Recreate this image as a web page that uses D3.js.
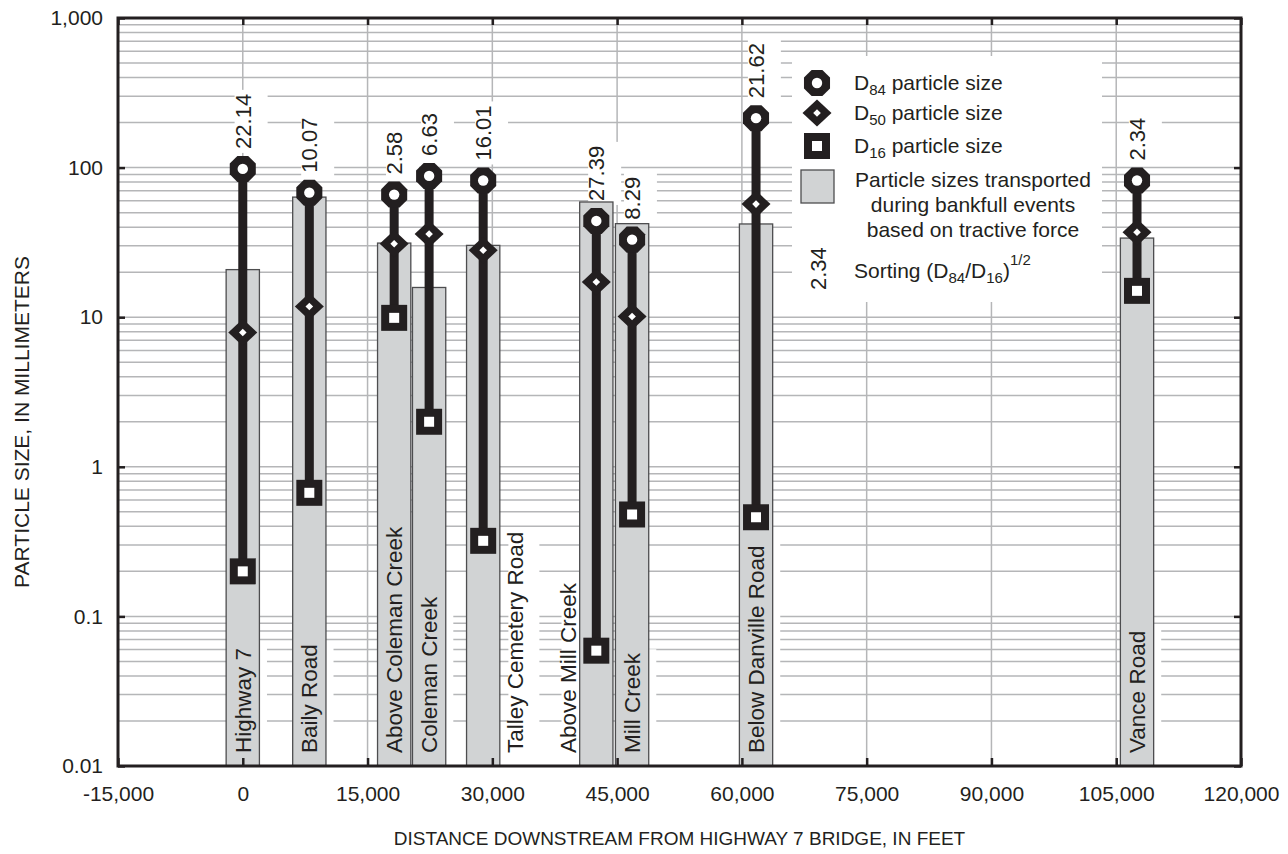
<!DOCTYPE html>
<html>
<head>
<meta charset="utf-8">
<script src="https://cdn.jsdelivr.net/npm/d3@7/dist/d3.min.js"></script>
<style>
  body { margin: 0; background: #fff; }
  svg { font-family: "Liberation Sans", Arial, Helvetica, sans-serif; }
</style>
</head>
<body>
<svg id="chart" width="1288" height="854"></svg>
<script>
// station data
const stations = ["Highway 7", "Baily Road", "Above Coleman Creek", "Coleman Creek",
  "Talley Cemetery Road", "Above Mill Creek", "Mill Creek", "Below Danville Road", "Vance Road"];
const distance = [0, 8000, 18200, 22400, 28900, 42500, 46800, 61700, 107500];   // feet
const d84 = [98, 68, 66, 88, 82, 44, 33, 214, 82];                               // mm
const d50 = [7.9, 11.8, 31, 36, 28, 17.2, 10.1, 57, 37];
const d16 = [0.2, 0.67, 9.9, 2.0, 0.32, 0.059, 0.48, 0.46, 15];
const sorting = ["22.14", "10.07", "2.58", "6.63", "16.01", "27.39", "8.29", "21.62", "2.34"];
const tractive = [20.8, 63.5, 31.3, 15.8, 30.2, 58.9, 42.2, 42, 33.8];          // bar tops, mm
const barWidthFt = 4000;

// axes
const xTicks = [-15000, 0, 15000, 30000, 45000, 60000, 75000, 90000, 105000, 120000];
const xTickLabels = ["-15,000", "0", "15,000", "30,000", "45,000", "60,000", "75,000", "90,000", "105,000", "120,000"];
const yTicks = [0.01, 0.1, 1, 10, 100, 1000];
const yTickLabels = ["0.01", "0.1", "1", "10", "100", "1,000"];
const xTitle = "DISTANCE DOWNSTREAM FROM HIGHWAY 7 BRIDGE, IN FEET";
const yTitle = "PARTICLE SIZE, IN MILLIMETERS";

// labels that sit beside their bar instead of inside (px)
const labelShift = { "Talley Cemetery Road": 32, "Above Mill Creek": -28 };

const ink = "#231f20";
const gridColor = "#b5b6b8";
const barFill = "#d1d3d4";
const barEdge = "#4d4d4f";

const margin = { top: 18, right: 47, bottom: 88, left: 118 };
const svg = d3.select("#chart");
const width = +svg.attr("width") - margin.left - margin.right;
const height = +svg.attr("height") - margin.top - margin.bottom;

const x = d3.scaleLinear().domain([-15000, 120000]).range([0, width]);
const y = d3.scaleLog().domain([0.01, 1000]).range([height, 0]);

const chart = svg.append("g").attr("transform", `translate(${margin.left},${margin.top})`);

// grid
const minor = [];
yTicks.slice(0, -1).forEach(d => { for (let k = 1; k <= 9; k++) minor.push(d * k); });
chart.append("g").selectAll("line").data(minor.filter(v => v > 0.01))
  .enter().append("line")
  .attr("x1", 0).attr("x2", width)
  .attr("y1", d => y(d)).attr("y2", d => y(d))
  .attr("stroke", gridColor).attr("stroke-width", 1.5);
chart.append("g").selectAll("line").data(xTicks.slice(1, -1))
  .enter().append("line")
  .attr("x1", d => x(d)).attr("x2", d => x(d))
  .attr("y1", 0).attr("y2", height)
  .attr("stroke", gridColor).attr("stroke-width", 1.5);

const bgLayer = chart.append("g");
const barLayer = chart.append("g");
const markLayer = chart.append("g");
const textLayer = chart.append("g");

// bars: particle sizes moved at bankfull
const barPx = x(barWidthFt) - x(0);
barLayer.selectAll("rect").data(stations).enter().append("rect")
  .attr("x", (d, i) => x(distance[i]) - barPx / 2)
  .attr("width", barPx)
  .attr("y", (d, i) => y(tractive[i]))
  .attr("height", (d, i) => height - y(tractive[i]))
  .attr("fill", barFill).attr("stroke", barEdge).attr("stroke-width", 1.3);

// marker shapes
function octagon(r) {
  const pts = d3.range(8).map(k => {
    const a = Math.PI / 8 + k * Math.PI / 4;
    return [r * Math.cos(a), r * Math.sin(a)];
  });
  return "M" + pts.join("L") + "Z";
}
function diamond(w, h) { return `M0,${-h}L${w},0L0,${h}L${-w},0Z`; }
function square(s) { return `M${-s},${-s}H${s}V${s}H${-s}Z`; }

function drawMarker(g, type, cx, cy) {
  const m = g.append("g").attr("transform", `translate(${cx},${cy})`);
  if (type === "d84") {
    m.append("path").attr("d", octagon(14.1)).attr("fill", ink);
    m.append("circle").attr("r", 5.2).attr("fill", "#fff");
  } else if (type === "d50") {
    m.append("path").attr("d", diamond(14.5, 13.5)).attr("fill", ink);
    m.append("path").attr("d", diamond(3.8, 3.8)).attr("fill", "#fff");
  } else {
    m.append("path").attr("d", square(13)).attr("fill", ink);
    m.append("path").attr("d", square(5)).attr("fill", "#fff");
  }
}

// range lines + markers
stations.forEach((s, i) => {
  const cx = x(distance[i]);
  markLayer.append("line")
    .attr("x1", cx).attr("x2", cx)
    .attr("y1", y(d84[i])).attr("y2", y(d16[i]))
    .attr("stroke", ink).attr("stroke-width", 9);
  drawMarker(markLayer, "d16", cx, y(d16[i]));
  drawMarker(markLayer, "d50", cx, y(d50[i]));
  drawMarker(markLayer, "d84", cx, y(d84[i]));
});

// rotated text with a white backing that knocks out the grid
function vText(cx, cy, str, size, pad) {
  const t = textLayer.append("text")
    .attr("transform", `translate(${cx},${cy}) rotate(-90)`)
    .attr("dy", "0.36em")
    .attr("font-size", size).attr("fill", ink)
    .text(str);
  const b = t.node().getBBox();
  bgLayer.append("rect")
    .attr("transform", `translate(${cx},${cy}) rotate(-90)`)
    .attr("x", b.x - pad).attr("y", b.y + size * 0.36 - pad)
    .attr("width", b.width + 2 * pad).attr("height", b.height + 2 * pad)
    .attr("fill", "#fff");
  return t;
}

stations.forEach((s, i) => {
  const cx = x(distance[i]);
  vText(cx, y(d84[i]) - 20, sorting[i], 22, 4);
  vText(cx + (labelShift[s] || 0), height - 13, s, 22.5, 3);
});

// axes: ticks only inward, frame drawn separately
function styleAxis(g) {
  g.select(".domain").remove();
  g.selectAll(".tick line").attr("stroke", ink).attr("stroke-width", 2.5);
  g.selectAll(".tick text").attr("fill", ink).attr("font-size", 21)
    .attr("font-family", "Liberation Sans, Arial, sans-serif");
}
chart.append("g").attr("transform", `translate(0,${height})`)
  .call(d3.axisBottom(x).tickValues(xTicks).tickSize(-8).tickPadding(20)
    .tickFormat((d, i) => xTickLabels[i]))
  .call(styleAxis);
chart.append("g")
  .call(d3.axisTop(x).tickValues(xTicks).tickSize(-7).tickFormat(""))
  .call(styleAxis);
chart.append("g")
  .call(d3.axisLeft(y).tickValues(yTicks).tickSize(-7).tickPadding(15)
    .tickFormat((d, i) => yTickLabels[i]))
  .call(styleAxis);
chart.append("g").attr("transform", `translate(${width},0)`)
  .call(d3.axisRight(y).tickValues(yTicks).tickSize(-7).tickFormat(""))
  .call(styleAxis);

chart.append("rect")
  .attr("width", width).attr("height", height)
  .attr("fill", "none").attr("stroke", ink).attr("stroke-width", 3);

// legend
const lg = chart.append("g").attr("transform", `translate(${792 - margin.left},${56 - margin.top})`);
lg.append("rect").attr("width", 310).attr("height", 246).attr("fill", "#fff");
const lx = 25, tx = 62;
function subLabel(t, parts) {
  parts.forEach(p => {
    const sp = t.append("tspan").text(p[0]);
    if (p[1] === "sub") sp.attr("font-size", 15).attr("dy", 5);
    if (p[1] === "sup") sp.attr("font-size", 15).attr("dy", -13);
    if (p[1] === "back") sp.attr("dy", -5);
  });
}
drawMarker(lg, "d84", lx, 27);
drawMarker(lg, "d50", lx, 57);
drawMarker(lg, "d16", lx, 90);
[[27, "84"], [57, "50"], [90, "16"]].forEach(r => {
  const t = lg.append("text").attr("x", tx).attr("y", r[0] + 7).attr("font-size", 21).attr("fill", ink);
  subLabel(t, [["D"], [r[1], "sub"], [" particle size", "back"]]);
});
lg.append("rect").attr("x", 9).attr("y", 114).attr("width", 33).attr("height", 33)
  .attr("fill", barFill).attr("stroke", barEdge).attr("stroke-width", 1.3);
["Particle sizes transported", "during bankfull events", "based on tractive force"].forEach((s, i) => {
  lg.append("text").attr("x", 181).attr("y", 131 + i * 25).attr("text-anchor", "middle")
    .attr("font-size", 21).attr("fill", ink).text(s);
});
lg.append("text").attr("transform", `translate(${lx + 1},${234}) rotate(-90)`).attr("dy", "0.36em")
  .attr("font-size", 22).attr("fill", ink).text(sorting[sorting.length - 1]);
const st = lg.append("text").attr("x", tx).attr("y", 222).attr("font-size", 21).attr("fill", ink);
subLabel(st, [["Sorting (D"], ["84", "sub"], ["/D", "back"], ["16", "sub"], [")", "back"], ["1/2", "sup"]]);

// axis titles
svg.append("text")
  .attr("x", margin.left + width / 2).attr("y", 845)
  .attr("text-anchor", "middle").attr("font-size", 19).attr("fill", ink)
  .text(xTitle);
svg.append("text")
  .attr("transform", `translate(21,422) rotate(-90)`)
  .attr("dy", "0.36em")
  .attr("text-anchor", "middle").attr("font-size", 21).attr("fill", ink)
  .text(yTitle);
</script>
</body>
</html>
